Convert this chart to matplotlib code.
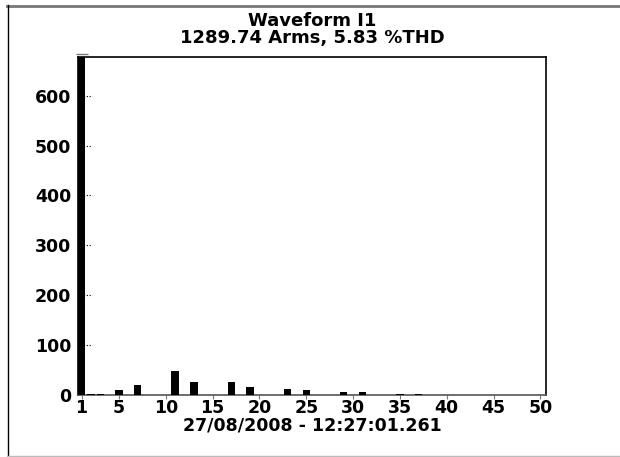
import matplotlib
matplotlib.use("Agg")
import matplotlib.pyplot as plt
from matplotlib.lines import Line2D

harmonics = list(range(1, 51))
amplitudes = [684, 1.5, 1.2, 0, 9.5, 0, 19.5, 0, 0, 0,
              48, 0, 26, 0, 0, 0, 26, 0, 16, 0,
              0, 0, 11.5, 0, 9.5, 0, 0, 0, 5, 0,
              5, 0, 0, 0, 1.5, 0, 1.5, 0, 0, 0,
              0, 0, 0, 0, 0, 0, 0, 0, 0, 0]
xticks = [1, 5, 10, 15, 20, 25, 30, 35, 40, 45, 50]
yticks = [0, 100, 200, 300, 400, 500, 600]
title = "Waveform I1\n1289.74 Arms, 5.83 %THD"
xlabel = "27/08/2008 - 12:27:01.261"

plt.rcParams['font.family'] = ['DejaVu Sans']
plt.rcParams['font.weight'] = 'bold'

fig = plt.figure(figsize=(6.2, 4.57), dpi=100)
W, H = 620, 457
ax = fig.add_axes([78 / W, 1 - 394.7 / H, (546 - 78) / W, (394.7 - 57) / H])

ax.bar(harmonics, amplitudes, width=0.8, color='black', zorder=3)
ax.set_xlim(0.62, 50.6)
ax.set_ylim(0, 678)

# small gray cap above fundamental
ax.plot([harmonics[0]], [684], marker='_', markersize=8, color='#777777',
        clip_on=False, zorder=4)

ax.set_xticks(xticks)
ax.set_yticks(yticks)
ax.tick_params(axis='x', direction='out', length=3, color='#777777',
               labelsize=12.5, pad=0)
ax.tick_params(axis='y', length=0, labelsize=12.5, pad=5)
for lab in ax.get_xticklabels() + ax.get_yticklabels():
    lab.set_fontweight('bold')

# dotted inside y ticks
ax.hlines(yticks[1:], 0, 0.03, transform=ax.get_yaxis_transform(),
          colors='black', linestyles=(0, (1, 1.5)), linewidth=0.8, zorder=2)

for s in ['top', 'right', 'left']:
    ax.spines[s].set_color('black')
    ax.spines[s].set_linewidth(1.2)
ax.spines['bottom'].set_color('#555555')
ax.spines['bottom'].set_linestyle((0, (1, 1)))
ax.spines['bottom'].set_linewidth(1.2)

ax.set_title(title, fontsize=13, fontweight='bold', pad=10, linespacing=0.95)
ax.set_xlabel(xlabel, fontsize=12.5, fontweight='bold', labelpad=0)

# outer border
fig.add_artist(Line2D([7 / W, 1], [1 - 5.5 / H, 1 - 5.5 / H], color='#777777', linewidth=2))
fig.add_artist(Line2D([7.5 / W, 7.5 / W], [1 - 5 / H, 1 - 455 / H], color='black', linewidth=1))
fig.add_artist(Line2D([7 / W, 1], [1 - 455.5 / H, 1 - 455.5 / H], color='#bbbbbb', linewidth=1))

fig.savefig("out.png", dpi=100)
